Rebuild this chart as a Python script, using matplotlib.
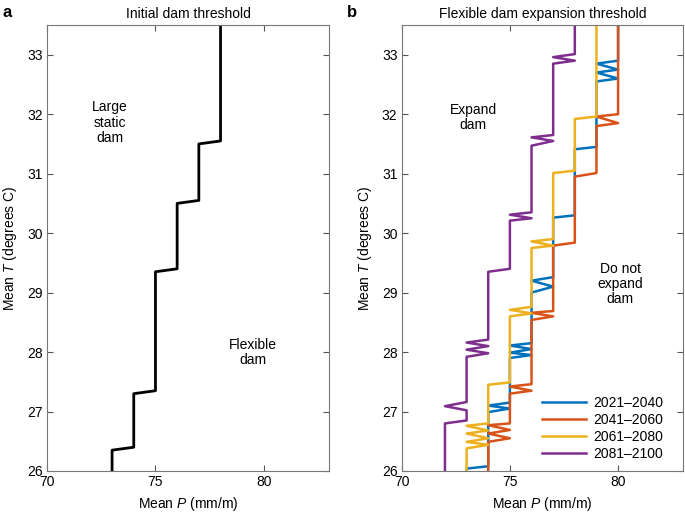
import matplotlib
matplotlib.use('Agg')
import matplotlib.pyplot as plt

plt.rcParams['font.family'] = ['Liberation Sans', 'DejaVu Sans']
plt.rcParams['mathtext.fontset'] = 'custom'
plt.rcParams['mathtext.it'] = 'Liberation Sans:italic'

# panel a: initial dam threshold
init_P = [78, 78, 77, 77, 76, 76, 75, 75, 74, 74, 73, 73]
init_T = [33.5, 31.55, 31.5, 30.55, 30.5, 29.4, 29.35, 27.35, 27.3, 26.4, 26.35, 26.0]

# panel b: expansion thresholds by period
periods = ['2021\u20132040', '2041\u20132060', '2061\u20132080', '2081\u20132100']
colors = ['#0072BD', '#D95319', '#EDB120', '#7E2F8E']

p2021 = [80, 80, 79, 80, 79, 80, 79, 79, 78, 78, 77, 77, 76, 77, 76,
         76, 75, 76, 75, 76, 75, 75, 74, 75, 74, 74, 73, 73]
t2021 = [33.5, 32.9, 32.85, 32.75, 32.7, 32.6, 32.55, 31.45, 31.41, 30.3, 30.26, 29.26, 29.2, 29.1, 29.0,
         28.15, 28.11, 28.05, 27.99, 27.95, 27.9, 27.15, 27.1, 27.05, 26.99, 26.08, 26.04, 26.0]

p2041 = [80, 80, 79, 80, 79, 79, 78, 78, 77, 77, 76, 77, 76, 76, 75, 76, 75,
         75, 74, 75, 74, 75, 74, 74]
t2041 = [33.5, 32.0, 31.96, 31.85, 31.8, 31.01, 30.95, 29.84, 29.79, 28.69, 28.66, 28.6, 28.54,
         27.46, 27.42, 27.35, 27.3, 26.8, 26.77, 26.69, 26.63, 26.55, 26.49, 26.0]

p2061 = [79, 79, 78, 78, 77, 77, 76, 77, 76, 76, 75, 76, 75, 75, 74,
         74, 73, 74, 73, 74, 73, 74, 73, 73]
t2061 = [33.5, 31.96, 31.92, 31.05, 31.01, 29.9, 29.86, 29.79, 29.75, 28.76, 28.71, 28.65, 28.6,
         27.49, 27.45, 26.8, 26.76, 26.68, 26.63, 26.55, 26.49, 26.44, 26.38, 26.0]

p2081 = [78, 78, 77, 78, 77, 77, 76, 77, 76, 76, 75, 76, 75, 75, 74, 74, 73, 74, 73, 74, 73,
         73, 72, 73, 73, 72, 72]
t2081 = [33.5, 33.01, 32.96, 32.9, 32.85, 31.65, 31.61, 31.55, 31.47, 30.35, 30.31, 30.25, 30.21,
         29.4, 29.35, 28.21, 28.16, 28.1, 28.04, 27.98, 27.92, 27.16, 27.09, 27.02, 26.85, 26.8, 26.0]

series = [(p2021, t2021), (p2041, t2041), (p2061, t2061), (p2081, t2081)]

fig = plt.figure(figsize=(6.85, 5.13), dpi=100)
ax_a = fig.add_axes([0.0686, 0.0819, 0.4117, 0.8694])
ax_b = fig.add_axes([0.5864, 0.0819, 0.4107, 0.8694])


def style(ax, title):
    ax.set_xlim(70, 83)
    ax.set_ylim(26, 33.5)
    ax.set_xticks([70, 75, 80])
    ax.set_yticks([26, 27, 28, 29, 30, 31, 32, 33])
    ax.tick_params(direction='in', top=True, right=True, labelsize=10,
                   color='#555555', length=4, width=0.8, pad=3)
    for s in ax.spines.values():
        s.set_color('#777777')
        s.set_linewidth(0.8)
    ax.set_title(title, fontsize=10, pad=5)
    ax.set_xlabel('Mean $P$ (mm/m)', fontsize=10, labelpad=4)
    ax.set_ylabel('Mean $T$ (degrees C)', fontsize=10, labelpad=6)


ax_a.plot(init_P, init_T, color='black', lw=2)
style(ax_a, 'Initial dam threshold')
ax_a.text(72.9, 31.86, 'Large\nstatic\ndam', ha='center', va='center', fontsize=10, linespacing=1.1)
ax_a.text(79.5, 28.0, 'Flexible\ndam', ha='center', va='center', fontsize=10, linespacing=1.1)

for (p, t), c, lab in zip(series, colors, periods):
    ax_b.plot(p, t, color=c, lw=1.8, label=lab)
style(ax_b, 'Flexible dam expansion threshold')
ax_b.text(73.3, 31.94, 'Expand\ndam', ha='center', va='center', fontsize=10, linespacing=1.1)
ax_b.text(80.1, 29.14, 'Do not\nexpand\ndam', ha='center', va='center', fontsize=10, linespacing=1.1)
ax_b.legend(loc='lower right', bbox_to_anchor=(0.964, 0.0), frameon=False, fontsize=10,
            handlelength=3.2, handletextpad=0.5, labelspacing=0.22, borderaxespad=0.3)

fig.text(0.003, 0.975, 'a', fontsize=12, fontweight='bold', va='center')
fig.text(0.507, 0.975, 'b', fontsize=12, fontweight='bold', va='center')

fig.savefig('out.png', dpi=100)
